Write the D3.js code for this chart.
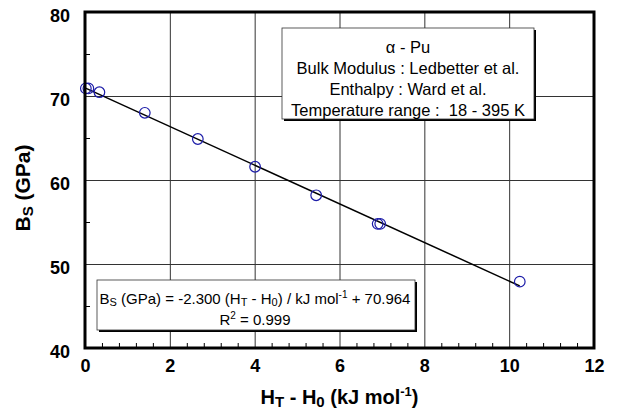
<!DOCTYPE html>
<html>
<head>
<meta charset="utf-8">
<script src="https://cdnjs.cloudflare.com/ajax/libs/d3/7.8.5/d3.min.js"></script>
<style>
  body { margin: 0; background: #fff; }
</style>
</head>
<body>
<div id="figure-container"></div>
<script>
// enthalpy difference H_T - H_0 (kJ/mol) and adiabatic bulk modulus B_S (GPa)
const enthalpy = [0.02, 0.08, 0.34, 1.41, 2.66, 4.01, 5.45, 6.90, 6.96, 10.25];
const bulkModulus = [70.9, 70.9, 70.45, 68.0, 64.88, 61.58, 58.18, 54.78, 54.78, 47.9];

// linear fit
const fitSlope = -2.300;
const fitIntercept = 70.964;

const xTicks = [0, 2, 4, 6, 8, 10, 12];
const yTicks = [40, 50, 60, 70, 80];

const infoLines = ['\u03b1 - Pu', 'Bulk Modulus : Ledbetter et al.', 'Enthalpy : Ward et al.', 'Temperature range :  18 - 395 K'];

const FONT = '"Liberation Sans", Arial, sans-serif';

var margin = {top: 12, right: 23, bottom: 64, left: 85};
var fullWidth = 617, fullHeight = 412;
var width = fullWidth - margin.left - margin.right;
var height = fullHeight - margin.top - margin.bottom;

var xScale = d3.scaleLinear().domain([0, 12]).range([0, width]);
var yScale = d3.scaleLinear().domain([40, 80]).range([height, 0]);

var svg = d3.select('#figure-container')
  .append('svg')
  .attr('width', fullWidth)
  .attr('height', fullHeight)
  .style('display', 'block')
  .style('font-family', FONT)
  .append('g')
  .attr('transform', `translate(${margin.left},${margin.top})`);

// grid
svg.append('g')
  .attr('transform', `translate(0,${height})`)
  .call(d3.axisBottom(xScale).tickValues(xTicks.slice(1, -1)).tickSize(-height).tickFormat(''))
  .call(g => g.select('.domain').remove())
  .call(g => g.selectAll('line').attr('stroke', '#333').attr('stroke-width', 1));

svg.append('g')
  .call(d3.axisLeft(yScale).tickValues(yTicks.slice(1, -1)).tickSize(-width).tickFormat(''))
  .call(g => g.select('.domain').remove())
  .call(g => g.selectAll('line').attr('stroke', '#333').attr('stroke-width', 1));

// minor ticks (inward)
var xMinor = d3.range(0, 12.001, 0.4).filter(v => Math.abs(v / 2 - Math.round(v / 2)) > 0.01);
svg.append('g')
  .attr('transform', `translate(0,${height})`)
  .call(d3.axisBottom(xScale).tickValues(xMinor).tickSize(-5).tickFormat(''))
  .call(g => g.select('.domain').remove())
  .call(g => g.selectAll('line').attr('stroke', '#000').attr('stroke-width', 1));

var yMinor = [45, 55, 65, 75];
svg.append('g')
  .call(d3.axisLeft(yScale).tickValues(yMinor).tickSize(-5).tickFormat(''))
  .call(g => g.select('.domain').remove())
  .call(g => g.selectAll('line').attr('stroke', '#000').attr('stroke-width', 1));

// tick labels
function styleTicks(g) {
  g.attr('font-family', null).attr('font-size', null);
  g.select('.domain').remove();
  g.selectAll('text')
    .attr('fill', '#000')
    .style('font-family', FONT)
    .style('font-size', '18px')
    .style('font-weight', 'bold');
}

svg.append('g')
  .attr('transform', `translate(0,${height})`)
  .call(d3.axisBottom(xScale).tickValues(xTicks).tickSize(0).tickPadding(11))
  .call(styleTicks)
  .call(g => g.selectAll('text').attr('dy', null).attr('y', 24));

svg.append('g')
  .call(d3.axisLeft(yScale).tickValues(yTicks).tickSize(0).tickPadding(15))
  .call(styleTicks)
  .call(g => g.selectAll('text').attr('dy', '0.5em'));

// fit line
var fitLine = d3.line().x(d => xScale(d)).y(d => yScale(fitSlope * d + fitIntercept));
svg.append('path')
  .datum([0, d3.max(enthalpy)])
  .attr('d', fitLine)
  .attr('fill', 'none')
  .attr('stroke', '#000')
  .attr('stroke-width', 1.5);

// data points
svg.append('g')
  .selectAll('circle')
  .data(enthalpy)
  .enter()
  .append('circle')
  .attr('cx', d => xScale(d))
  .attr('cy', (d, i) => yScale(bulkModulus[i]))
  .attr('r', 5.3)
  .attr('fill', 'none')
  .attr('stroke', '#1c1ca8')
  .attr('stroke-width', 1.2);

// frame
svg.append('rect')
  .attr('width', width)
  .attr('height', height)
  .attr('fill', 'none')
  .attr('stroke', '#000')
  .attr('stroke-width', 3);

// text box with drop shadow
function textBox(x, y, w, h) {
  svg.append('rect')
    .attr('x', x + 2).attr('y', y + 2).attr('width', w).attr('height', h)
    .attr('fill', '#000');
  svg.append('rect')
    .attr('x', x).attr('y', y).attr('width', w).attr('height', h)
    .attr('fill', '#fff').attr('stroke', '#333').attr('stroke-width', 0.8);
}

// info box
textBox(197, 16, 252, 91);
svg.append('g')
  .selectAll('text')
  .data(infoLines)
  .enter()
  .append('text')
  .attr('x', 323)
  .attr('y', (d, i) => 40.5 + i * 21.2)
  .attr('text-anchor', 'middle')
  .style('font-size', '16.5px')
  .style('white-space', 'pre')
  .text(d => d);

// equation box
textBox(12, 268, 318, 50);
var eq = svg.append('text')
  .attr('x', 170)
  .attr('y', 291.5)
  .attr('text-anchor', 'middle')
  .style('font-size', '15px');
eq.append('tspan').text('B');
eq.append('tspan').style('font-size', '11px').attr('dy', 2).text('S');
eq.append('tspan').attr('dy', -2).text(' (GPa) = -2.300 (H');
eq.append('tspan').style('font-size', '11px').attr('dy', 2).text('T');
eq.append('tspan').attr('dy', -2).text(' - H');
eq.append('tspan').style('font-size', '11px').attr('dy', 2).text('0');
eq.append('tspan').attr('dy', -2).text(') / kJ mol');
eq.append('tspan').style('font-size', '10px').attr('dy', -6).text('-1');
eq.append('tspan').attr('dy', 6).text(' + 70.964');

var r2 = svg.append('text')
  .attr('x', 170)
  .attr('y', 313)
  .attr('text-anchor', 'middle')
  .style('font-size', '15px');
r2.append('tspan').text('R');
r2.append('tspan').style('font-size', '10px').attr('dy', -6).text('2');
r2.append('tspan').attr('dy', 6).text(' = 0.999');

// axis titles
var xt = svg.append('text')
  .attr('x', width / 2)
  .attr('y', height + 56)
  .attr('text-anchor', 'middle')
  .style('font-size', '20px')
  .style('font-weight', 'bold');
xt.append('tspan').text('H');
xt.append('tspan').style('font-size', '15px').attr('dy', 3).text('T');
xt.append('tspan').attr('dy', -3).text(' - H');
xt.append('tspan').style('font-size', '15px').attr('dy', 3).text('0');
xt.append('tspan').attr('dy', -3).text(' (kJ mol');
xt.append('tspan').style('font-size', '13px').attr('dy', -8).text('-1');
xt.append('tspan').attr('dy', 8).text(')');

var yt = svg.append('text')
  .attr('transform', `translate(${-55},${height / 2 + 8}) rotate(-90)`)
  .attr('text-anchor', 'middle')
  .style('font-size', '21px')
  .style('font-weight', 'bold');
yt.append('tspan').text('B');
yt.append('tspan').style('font-size', '15px').attr('dy', 3).text('S');
yt.append('tspan').attr('dy', -3).text(' (GPa)');
</script>
</body>
</html>
